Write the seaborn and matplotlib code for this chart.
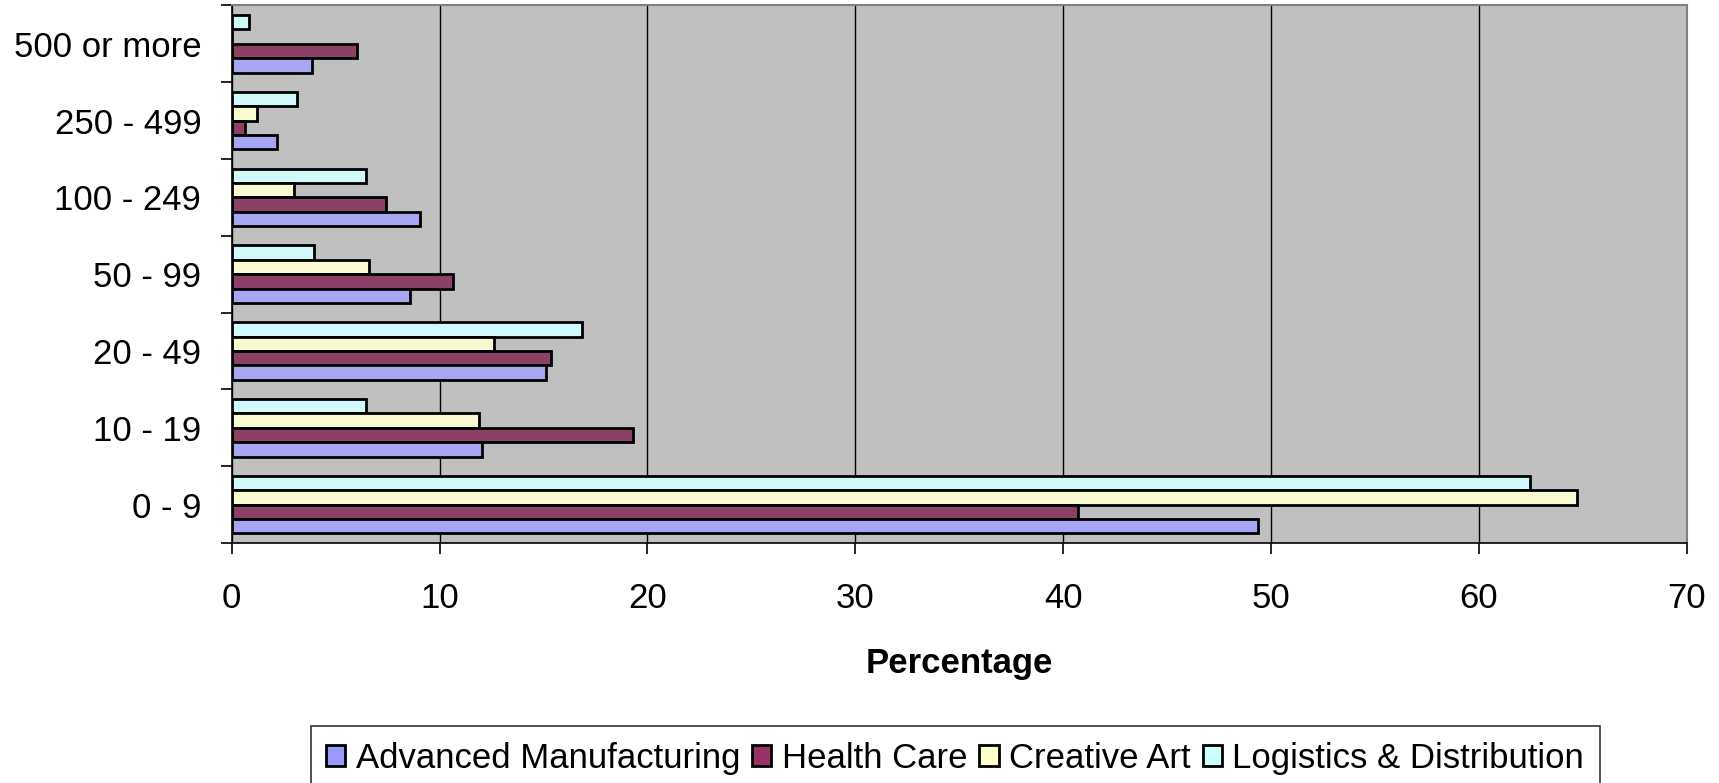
import numpy as np
import pandas as pd
import matplotlib
matplotlib.use("Agg")
import matplotlib.pyplot as plt
from matplotlib.patches import Patch
import seaborn as sns

# size bands, listed top to bottom as in the chart
sizes = ["500 or more", "250 - 499", "100 - 249", "50 - 99", "20 - 49", "10 - 19", "0 - 9"]

adv_manufacturing = [3.85, 2.2, 9.05, 8.6, 15.1, 12.05, 49.35]
health_care = [6.05, 0.65, 7.4, 10.65, 15.35, 19.3, 40.7]
creative_art = [0.0, 1.2, 3.0, 6.6, 12.6, 11.9, 64.7]
logistics = [0.85, 3.15, 6.45, 3.95, 16.85, 6.45, 62.45]

sectors = ["Advanced Manufacturing", "Health Care", "Creative Art", "Logistics & Distribution"]
colors = ["#9999FF", "#993366", "#FFFFCC", "#CCFFFF"]

rows = []
for name, vals in zip(sectors, [adv_manufacturing, health_care, creative_art, logistics]):
    for s, v in zip(sizes, vals):
        rows.append({"size": s, "sector": name, "pct": v})
df = pd.DataFrame(rows)

sns.set_style("white")
plt.rcParams["font.family"] = ["Liberation Sans", "DejaVu Sans"]
plt.rcParams["text.color"] = "black"
plt.rcParams["axes.labelcolor"] = "black"
plt.rcParams["xtick.color"] = "black"
plt.rcParams["ytick.color"] = "black"

fig = plt.figure(figsize=(17.19, 7.83), dpi=100)
ax = fig.add_axes([0.1348, 0.3065, 0.8465, 0.6865])
ax.set_facecolor("#C0C0C0")

# excel draws the first series at the bottom of each group, so reverse hue order
sns.barplot(data=df, x="pct", y="size", hue="sector", order=sizes,
            hue_order=sectors[::-1], palette=dict(zip(sectors, colors)),
            orient="h", width=0.75, errorbar=None, edgecolor="black",
            linewidth=2.0, legend=False, ax=ax, zorder=3)

ax.set_xlim(0, 70)
ax.set_ylim(6.5, -0.5)
ax.set_xticks(np.arange(0, 71, 10))
ax.xaxis.grid(True, color="black", linewidth=1)
ax.set_axisbelow(True)

ax.set_yticks(np.arange(-0.5, 7, 1), minor=True)
ax.tick_params(axis="y", which="major", length=0, pad=22, labelsize=25)
ax.tick_params(axis="y", which="minor", length=8, width=1.2, color="black", direction="out", left=True)
ax.tick_params(axis="x", which="major", length=8, width=1.2, color="black", direction="out",
               bottom=True, pad=20, labelsize=25)

ax.set_ylabel("")
ax.set_xlabel("Percentage", fontsize=25, fontweight="bold", labelpad=23)

for side in ["left", "bottom"]:
    ax.spines[side].set_color("black")
    ax.spines[side].set_linewidth(1.2)
for side in ["top", "right"]:
    ax.spines[side].set_color("#808080")
    ax.spines[side].set_linewidth(1.5)

handles = [Patch(facecolor=c, edgecolor="black", linewidth=2.0) for c in colors]
leg = fig.legend(handles, sectors, loc="upper center", bbox_to_anchor=(0.5556, 0.0728),
                 ncol=4, fontsize=25, frameon=True, fancybox=False, borderaxespad=0,
                 handlelength=0.55, handleheight=0.55, handletextpad=0.3,
                 columnspacing=0.35, borderpad=0.45)
leg.get_frame().set_edgecolor("black")
leg.get_frame().set_linewidth(1.2)

fig.savefig("out.png", dpi=100)
